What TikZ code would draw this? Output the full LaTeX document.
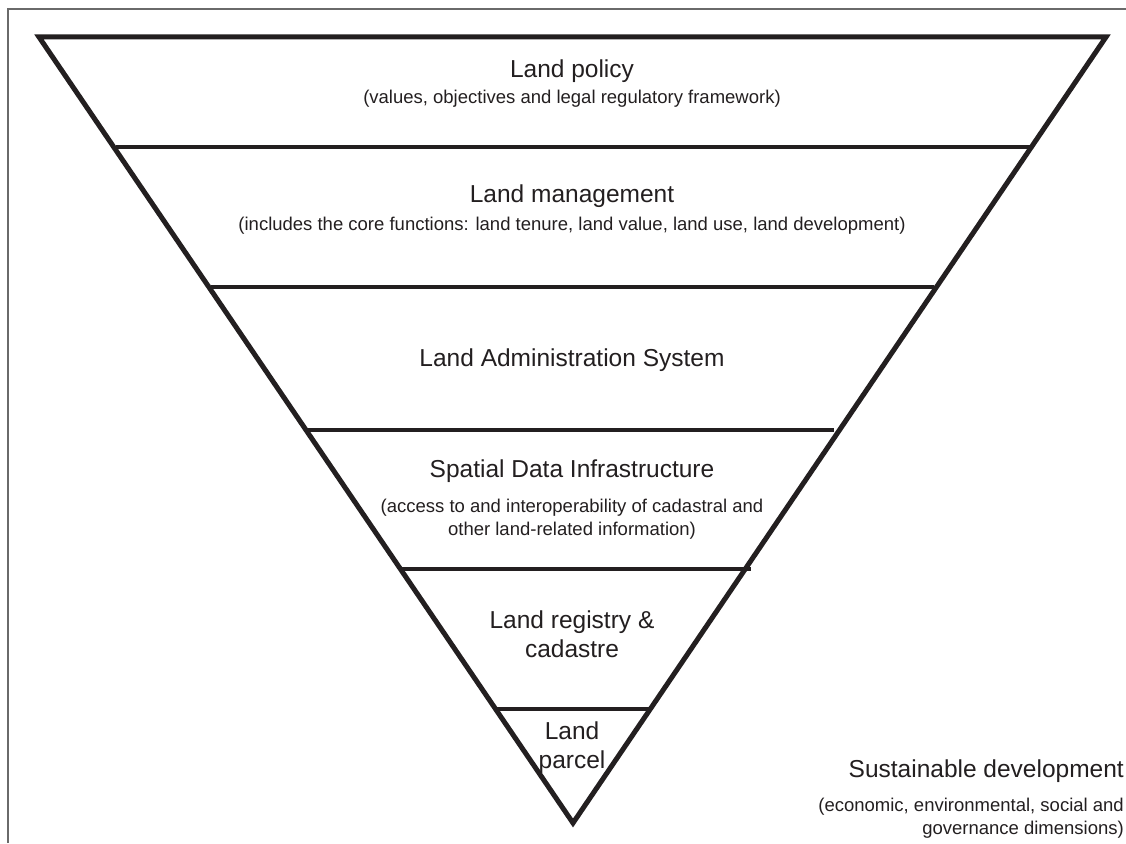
\documentclass[tikz,border=0pt]{standalone}
\usepackage{fontspec}
\setmainfont{Liberation Sans}
\definecolor{ink}{HTML}{231F20}
\definecolor{framegray}{HTML}{6A6A6A}
\tikzset{
  tri/.style={draw=ink, line width=5pt, line join=miter},
  band/.style={draw=ink, line width=4.5pt},
  frameline/.style={draw=framegray, line width=1.2pt},
  ttl/.style={text=ink, font=\fontsize{24.5}{29}\selectfont, align=center, inner sep=0pt},
  sub/.style={text=ink, font=\fontsize{18.5}{23.4}\selectfont, align=center, inner sep=0pt},
}
\begin{document}
\begin{tikzpicture}[x=1pt,y=-1pt]
\useasboundingbox (0,0) rectangle (1126,843);
\fill[white] (0,0) rectangle (1126,843);
% frame
\coordinate (fbl) at (8,843);
\coordinate (ftl) at (8,9);
\coordinate (ftr) at (1126,9);
\draw[frameline] (fbl) -- (ftl) -- (ftr);
% triangle
\coordinate (tl) at (39,37);
\coordinate (tr) at (1106,37);
\coordinate (ap) at (573,823);
\draw[tri] (tl) -- (tr) -- (ap) -- cycle;
% bands
\coordinate (b1l) at (116,147); \coordinate (b1r) at (1030,147);
\coordinate (b2l) at (211,287); \coordinate (b2r) at (934,287);
\coordinate (b3l) at (306,430); \coordinate (b3r) at (834,430);
\coordinate (b4l) at (401,569); \coordinate (b4r) at (751,569);
\coordinate (b5l) at (496,709); \coordinate (b5r) at (650,709);
\draw[band] (b1l) -- (b1r);
\draw[band] (b2l) -- (b2r);
\draw[band] (b3l) -- (b3r);
\draw[band] (b4l) -- (b4r);
\draw[band] (b5l) -- (b5r);
% texts
\node[ttl] (t1) at (572,71) {Land policy};
\node[sub] (s1) at (572,99) {(values, objectives and legal regulatory framework)};
\node[ttl] (t2) at (572,196) {Land management};
\node[sub] (s2) at (572,226) {(includes the core functions: land tenure, land value, land use, land development)};
\node[ttl] (t3) at (572,360) {Land Administration System};
\node[ttl] (t4) at (572,471) {Spatial Data Infrastructure};
\node[sub] (s4) at (572,519) {(access to and interoperability of cadastral and\\other land-related information)};
\node[ttl] (t5) at (572,634) {Land registry \&\\cadastre};
\node[ttl] (t6) at (572,748) {Land\\parcel};
\node[ttl, anchor=east] (t7) at (1124,771) {Sustainable development};
\node[sub, anchor=east, align=right] (s7) at (1124,818) {(economic, environmental, social and\\governance dimensions)};
\end{tikzpicture}
\end{document}
